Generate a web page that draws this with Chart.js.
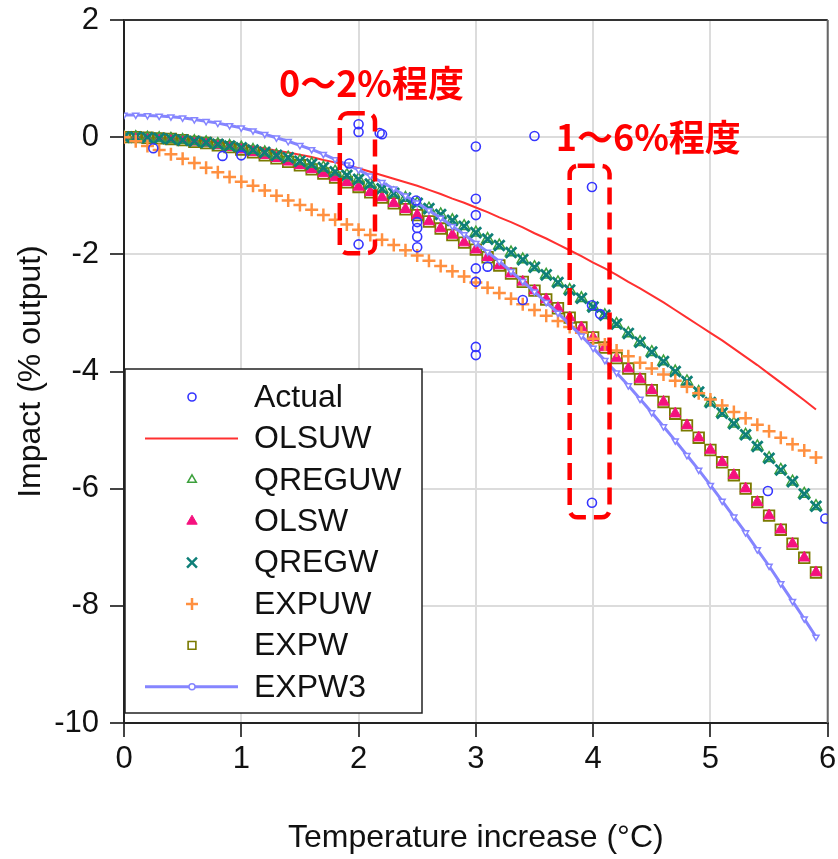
<!DOCTYPE html>
<html>
<head>
<meta charset="utf-8">
<script src="https://cdn.jsdelivr.net/npm/chart.js@4/dist/chart.umd.min.js"></script>
<style>
html,body{margin:0;padding:0;background:#fff;}
#wrap{width:838px;height:859px;position:relative;}
</style>
</head>
<body>
<div id="wrap"><canvas id="c" width="838" height="859"></canvas></div>
<script>
// ---- data ----
const temps = [0,0.1,0.2,0.3,0.4,0.5,0.6,0.7,0.8,0.9,1.0,1.1,1.2,1.3,1.4,1.5,1.6,1.7,1.8,1.9,2.0,2.1,2.2,2.3,2.4,2.5,2.6,2.7,2.8,2.9,3.0,3.1,3.2,3.3,3.4,3.5,3.6,3.7,3.8,3.9,4.0,4.1,4.2,4.3,4.4,4.5,4.6,4.7,4.8,4.9,5.0,5.1,5.2,5.3,5.4,5.5,5.6,5.7,5.8,5.9];

const olsuw = [0,0,-0.01,-0.01,-0.02,-0.03,-0.05,-0.07,-0.09,-0.11,-0.13,-0.16,-0.19,-0.23,-0.26,-0.30,-0.34,-0.39,-0.43,-0.48,-0.53,-0.59,-0.65,-0.71,-0.77,-0.83,-0.90,-0.97,-1.05,-1.12,-1.20,-1.28,-1.37,-1.45,-1.54,-1.64,-1.73,-1.83,-1.93,-2.03,-2.14,-2.24,-2.35,-2.47,-2.58,-2.70,-2.82,-2.95,-3.08,-3.21,-3.34,-3.47,-3.61,-3.75,-3.89,-4.04,-4.19,-4.34,-4.49,-4.65];

const qreguw = [0,0,-0.01,-0.02,-0.03,-0.05,-0.07,-0.09,-0.12,-0.15,-0.18,-0.22,-0.26,-0.31,-0.35,-0.41,-0.46,-0.52,-0.59,-0.65,-0.72,-0.80,-0.88,-0.96,-1.04,-1.13,-1.22,-1.32,-1.42,-1.52,-1.63,-1.74,-1.85,-1.97,-2.09,-2.22,-2.35,-2.48,-2.61,-2.75,-2.90,-3.04,-3.19,-3.35,-3.50,-3.67,-3.83,-4.00,-4.17,-4.35,-4.53,-4.71,-4.89,-5.08,-5.28,-5.48,-5.68,-5.88,-6.09,-6.30];

const olsw = [0,0,-0.01,-0.02,-0.03,-0.05,-0.08,-0.10,-0.14,-0.17,-0.21,-0.26,-0.31,-0.36,-0.42,-0.48,-0.55,-0.62,-0.69,-0.77,-0.85,-0.94,-1.03,-1.13,-1.23,-1.33,-1.44,-1.56,-1.67,-1.80,-1.92,-2.05,-2.19,-2.33,-2.47,-2.62,-2.77,-2.92,-3.08,-3.25,-3.42,-3.59,-3.77,-3.95,-4.13,-4.32,-4.52,-4.72,-4.92,-5.13,-5.34,-5.55,-5.77,-6.00,-6.23,-6.46,-6.70,-6.94,-7.18,-7.43];

const qregw = [0,0,-0.01,-0.02,-0.03,-0.05,-0.07,-0.09,-0.12,-0.15,-0.18,-0.22,-0.26,-0.31,-0.35,-0.41,-0.46,-0.52,-0.59,-0.65,-0.72,-0.80,-0.88,-0.96,-1.04,-1.13,-1.22,-1.32,-1.42,-1.52,-1.63,-1.74,-1.85,-1.97,-2.09,-2.22,-2.35,-2.48,-2.61,-2.75,-2.90,-3.04,-3.19,-3.35,-3.50,-3.67,-3.83,-4.00,-4.17,-4.35,-4.53,-4.71,-4.89,-5.08,-5.28,-5.48,-5.68,-5.88,-6.09,-6.30];

const expuw = [0,-0.07,-0.15,-0.22,-0.29,-0.37,-0.44,-0.52,-0.60,-0.68,-0.76,-0.83,-0.91,-1.00,-1.08,-1.16,-1.24,-1.33,-1.41,-1.49,-1.58,-1.67,-1.75,-1.84,-1.93,-2.02,-2.11,-2.20,-2.29,-2.38,-2.48,-2.57,-2.66,-2.76,-2.85,-2.95,-3.05,-3.14,-3.24,-3.34,-3.44,-3.54,-3.64,-3.74,-3.85,-3.95,-4.05,-4.16,-4.26,-4.37,-4.48,-4.58,-4.69,-4.80,-4.91,-5.02,-5.13,-5.24,-5.35,-5.47];

const expw = [0,0,-0.01,-0.02,-0.03,-0.05,-0.08,-0.10,-0.14,-0.17,-0.21,-0.26,-0.31,-0.36,-0.42,-0.48,-0.55,-0.62,-0.69,-0.77,-0.85,-0.94,-1.03,-1.13,-1.23,-1.33,-1.44,-1.56,-1.67,-1.80,-1.92,-2.05,-2.19,-2.33,-2.47,-2.62,-2.77,-2.92,-3.08,-3.25,-3.42,-3.59,-3.77,-3.95,-4.13,-4.32,-4.52,-4.72,-4.92,-5.13,-5.34,-5.55,-5.77,-6.00,-6.23,-6.46,-6.70,-6.94,-7.18,-7.43];

const expw3 = [0.38,0.38,0.37,0.36,0.35,0.33,0.30,0.27,0.24,0.20,0.16,0.11,0.05,-0.01,-0.07,-0.14,-0.21,-0.29,-0.38,-0.47,-0.56,-0.66,-0.77,-0.88,-1.00,-1.12,-1.25,-1.38,-1.52,-1.66,-1.81,-1.96,-2.12,-2.29,-2.46,-2.64,-2.82,-3.00,-3.20,-3.39,-3.60,-3.81,-4.02,-4.24,-4.47,-4.70,-4.94,-5.18,-5.43,-5.68,-5.94,-6.21,-6.48,-6.75,-7.04,-7.32,-7.62,-7.92,-8.22,-8.53];

const actualX = [0.25,0.84,1.00,1.92,2.00,2.00,2.00,2.18,2.20,2.49,2.50,2.50,2.50,2.50,3.00,3.00,3.00,3.00,3.00,3.00,3.00,3.10,3.40,3.50,3.99,3.99,4.06,3.99,5.49,5.98];
const actualY = [-0.19,-0.32,-0.31,-0.45,0.22,0.09,-1.83,0.07,0.05,-1.08,-1.45,-1.55,-1.70,-1.88,-0.16,-1.05,-1.33,-2.24,-2.47,-3.58,-3.72,-2.21,-2.78,0.02,-0.85,-2.87,-3.02,-6.24,-6.04,-6.51];

const seriesNames = ['Actual','OLSUW','QREGUW','OLSW','QREGW','EXPUW','EXPW','EXPW3'];
const xTicks = [0,1,2,3,4,5,6];
const yTicks = [2,0,-2,-4,-6,-8,-10];
const xTitle = 'Temperature increase (°C)';
const yTitle = 'Impact (% output)';

// annotations (in data units)
const annoBoxes = [
  {x0:1.84, x1:2.14, y0:0.41, y1:-1.98},
  {x0:3.80, x1:4.14, y0:-0.49, y1:-6.49}
];
const annoTexts = [
  {text:'0～2%程度', x:2.11, y:0.92},
  {text:'1～6%程度', x:4.47, y:0.0}
];

// ---- build ----
const pts = ys => temps.map((t,i)=>({x:t, y:ys[i]}));
const FONT = "'Liberation Sans', Arial, sans-serif";
Chart.defaults.font.family = FONT;
Chart.defaults.color = '#111';

const datasets = [
  {label:seriesNames[0], data:actualX.map((x,i)=>({x:x,y:actualY[i]})), showLine:false,
   pointStyle:'circle', pointRadius:4.5, pointBorderWidth:1.6, pointBorderColor:'#3535ff', pointBackgroundColor:'rgba(0,0,0,0)', order:0,
   lg:{kind:'pt', style:'circle', r:4, bw:1.6}},
  {label:seriesNames[1], data:pts(olsuw), showLine:true, borderColor:'#ff3030', borderWidth:2, pointRadius:0, order:7,
   lg:{kind:'line'}},
  {label:seriesNames[2], data:pts(qreguw), showLine:false, pointStyle:'triangle', pointRadius:6.5, pointBorderWidth:1.5,
   pointBorderColor:'#3ca03c', pointBackgroundColor:'rgba(0,0,0,0)', order:4,
   lg:{kind:'pt', style:'triangle', r:5, bw:1.5}},
  {label:seriesNames[3], data:pts(olsw), showLine:false, pointStyle:'triangle', pointRadius:6.5, pointBorderWidth:1,
   pointBorderColor:'#f5117e', pointBackgroundColor:'#f5117e', order:5,
   lg:{kind:'pt', style:'triangle', r:6, bw:1, fill:true}},
  {label:seriesNames[4], data:pts(qregw), showLine:false, pointStyle:'crossRot', pointRadius:7.5, pointBorderWidth:2.8,
   pointBorderColor:'#0e7f78', pointBackgroundColor:'#0e7f78', order:3,
   lg:{kind:'pt', style:'crossRot', r:7, bw:2.5}},
  {label:seriesNames[5], data:pts(expuw), showLine:false, pointStyle:'cross', pointRadius:6.5, pointBorderWidth:2.5,
   pointBorderColor:'#ff9040', pointBackgroundColor:'#ff9040', order:2,
   lg:{kind:'pt', style:'cross', r:6, bw:2.5}},
  {label:seriesNames[6], data:pts(expw), showLine:false, pointStyle:'rect', pointRadius:7.5, pointBorderWidth:1.8,
   pointBorderColor:'#7a7a00', pointBackgroundColor:'rgba(0,0,0,0)', order:6,
   lg:{kind:'pt', style:'rect', r:5.5, bw:1.6}},
  {label:seriesNames[7], data:pts(expw3), showLine:true, borderColor:'#8585ff', borderWidth:3,
   pointStyle:'triangle', pointRotation:180, pointRadius:3.5, pointBorderWidth:1.5,
   pointBorderColor:'#8585ff', pointBackgroundColor:'#ffffff', order:1,
   lg:{kind:'linept'}}
];

const framePlugin = {
  id:'frame',
  beforeDatasetsDraw(chart){
    const {ctx, chartArea:a} = chart;
    ctx.save();
    ctx.lineWidth = 2;
    ctx.strokeStyle = '#333';
    ctx.beginPath(); ctx.moveTo(a.left, a.top); ctx.lineTo(a.right, a.top); ctx.stroke();
    ctx.strokeStyle = '#666';
    ctx.beginPath(); ctx.moveTo(a.right, a.top); ctx.lineTo(a.right, a.bottom); ctx.stroke();
    ctx.restore();
  }
};

function rrect(ctx, x, y, w, h, r){
  ctx.beginPath();
  ctx.moveTo(x+r, y);
  ctx.lineTo(x+w-r, y); ctx.arcTo(x+w, y, x+w, y+r, r);
  ctx.lineTo(x+w, y+h-r); ctx.arcTo(x+w, y+h, x+w-r, y+h, r);
  ctx.lineTo(x+r, y+h); ctx.arcTo(x, y+h, x, y+h-r, r);
  ctx.lineTo(x, y+r); ctx.arcTo(x, y, x+r, y, r);
  ctx.closePath();
}

const annoPlugin = {
  id:'anno',
  afterDatasetsDraw(chart){
    const {ctx, scales:{x, y}} = chart;
    ctx.save();
    ctx.strokeStyle = '#ff0000';
    ctx.lineWidth = 4.5;
    ctx.setLineDash([17,8]);
    annoBoxes.forEach(b=>{
      const px0 = x.getPixelForValue(b.x0), px1 = x.getPixelForValue(b.x1);
      const py0 = y.getPixelForValue(b.y0), py1 = y.getPixelForValue(b.y1);
      rrect(ctx, px0, py0, px1-px0, py1-py0, 8);
      ctx.stroke();
    });
    ctx.setLineDash([]);
    ctx.fillStyle = '#ff0000';
    ctx.font = "bold 36px 'Noto Sans CJK JP', sans-serif";
    ctx.textAlign = 'center';
    ctx.textBaseline = 'middle';
    annoTexts.forEach(t=>{
      ctx.fillText(t.text, x.getPixelForValue(t.x), y.getPixelForValue(t.y));
    });
    ctx.restore();
  }
};

const legendPlugin = {
  id:'boxlegend',
  afterDraw(chart){
    const {ctx, chartArea:a} = chart;
    const left = a.left + 1, top = a.top + 349, w = 297, h = 344;
    ctx.save();
    ctx.fillStyle = '#fff';
    ctx.fillRect(left, top, w, h);
    ctx.strokeStyle = '#222';
    ctx.lineWidth = 1.5;
    ctx.strokeRect(left, top, w, h);
    const sx = left + 67, tx = left + 129;
    chart.data.datasets.forEach((ds, i)=>{
      const cy = top + 28 + i*41.4;
      const lg = ds.lg;
      if (lg.kind === 'line' || lg.kind === 'linept'){
        ctx.strokeStyle = ds.borderColor;
        ctx.lineWidth = ds.borderWidth;
        ctx.beginPath(); ctx.moveTo(sx-47, cy); ctx.lineTo(sx+46, cy); ctx.stroke();
        if (lg.kind === 'linept'){
          ctx.fillStyle = '#fff'; ctx.strokeStyle = ds.borderColor; ctx.lineWidth = 1.5;
          Chart.helpers.drawPoint(ctx, {pointStyle:'circle', radius:3, rotation:0, borderWidth:1.5}, sx, cy);
        }
      } else {
        ctx.strokeStyle = ds.pointBorderColor;
        ctx.fillStyle = lg.fill ? ds.pointBackgroundColor : 'rgba(0,0,0,0)';
        ctx.lineWidth = lg.bw;
        Chart.helpers.drawPoint(ctx, {pointStyle:lg.style, radius:lg.r, rotation:0, borderWidth:lg.bw}, sx, cy);
      }
      ctx.fillStyle = '#111';
      ctx.font = "32px " + FONT;
      ctx.textAlign = 'left';
      ctx.textBaseline = 'middle';
      ctx.fillText(ds.label, tx, cy + 1);
    });
    ctx.restore();
  }
};

new Chart(document.getElementById('c'), {
  type:'scatter',
  data:{datasets},
  options:{
    responsive:false,
    animation:false,
    devicePixelRatio:1,
    layout:{padding:{top:20, right:9, left:0, bottom:0}},
    plugins:{legend:{display:false}, tooltip:{enabled:false}},
    scales:{
      x:{
        type:'linear', min:0, max:6,
        afterBuildTicks(s){ s.ticks = xTicks.map(v=>({value:v})); },
        afterFit(s){ s.height = 136; s.paddingLeft = 0; s.paddingRight = 0; },
        ticks:{font:{size:31}, color:'#111', padding:4, maxRotation:0},
        grid:{color:'#dcdcdc', lineWidth:2, tickColor:'#444', tickLength:14, tickWidth:2},
        border:{display:true, color:'#222', width:2},
        title:{display:true, text:xTitle, font:{size:32}, color:'#111', padding:{top:0, bottom:2}}
      },
      y:{
        type:'linear', min:-10, max:2,
        afterBuildTicks(s){ s.ticks = yTicks.map(v=>({value:v})); },
        afterFit(s){ s.width = 124; s.paddingTop = 0; s.paddingBottom = 0; },
        ticks:{font:{size:31}, color:'#111', padding:11},
        grid:{color:'#dcdcdc', lineWidth:2, tickColor:'#444', tickLength:14, tickWidth:2},
        border:{display:true, color:'#222', width:2},
        title:{display:true, text:yTitle, font:{size:32}, color:'#111', padding:{top:12, bottom:0}}
      }
    }
  },
  plugins:[framePlugin, annoPlugin, legendPlugin]
});
</script>
</body>
</html>
